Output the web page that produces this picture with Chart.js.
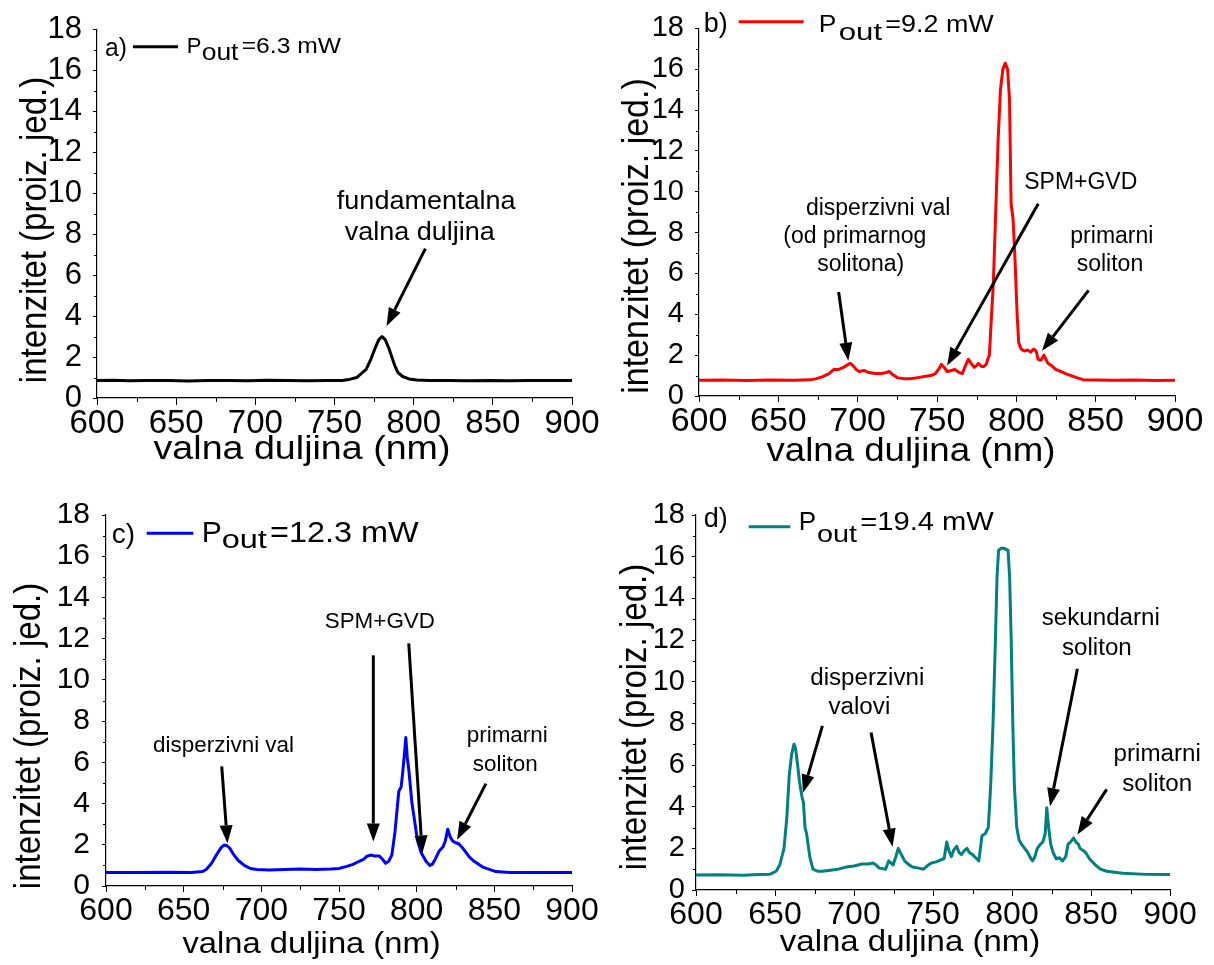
<!DOCTYPE html>
<html>
<head>
<meta charset="utf-8">
<script src="https://cdn.jsdelivr.net/npm/chart.js@4.4.1/dist/chart.umd.min.js"></script>
<style>
body { margin: 0; background: #fff; width: 1214px; height: 965px; position: relative; overflow: hidden; }
canvas { position: absolute; }
</style>
</head>
<body>
<canvas id="ca" width="607" height="470" style="left:0;top:0"></canvas>
<canvas id="cb" width="607" height="470" style="left:607px;top:0"></canvas>
<canvas id="cc" width="607" height="495" style="left:0;top:470px"></canvas>
<canvas id="cd" width="607" height="495" style="left:607px;top:470px"></canvas>
<script>
const FONT = '"Liberation Sans", Arial, sans-serif';

// axes
const xTicks = [600, 650, 700, 750, 800, 850, 900];
const yTicks = [0, 2, 4, 6, 8, 10, 12, 14, 16, 18];
const xMinor = [625, 675, 725, 775, 825, 875];
const yMinor = [1, 3, 5, 7, 9, 11, 13, 15, 17];

const tags = ['a)', 'b)', 'c)', 'd)'];
const powers = ['6.3', '9.2', '12.3', '19.4'];
const colors = ['#000000', '#ff0000', '#0000ff', '#008080'];

// a) Pout = 6.3 mW
const wlA = [600, 610, 620, 632, 645, 658, 670, 683, 695, 708, 720, 733, 745, 755, 760, 764, 767, 770, 773, 776,
  778, 780, 782, 784, 786, 788, 790, 793, 797, 802, 810, 822, 835, 848, 860, 873, 886, 900];
const intA = [0.85, 0.87, 0.84, 0.86, 0.85, 0.83, 0.86, 0.85, 0.84, 0.87, 0.85, 0.84, 0.86, 0.86, 0.92, 1.0, 1.2, 1.4, 1.9, 2.5,
  2.85, 3.0, 2.85, 2.5, 2.05, 1.6, 1.25, 1.05, 0.93, 0.88, 0.86, 0.85, 0.84, 0.86, 0.84, 0.86, 0.85, 0.85];

// b) Pout = 9.2 mW
const wlB = [600, 615, 630, 645, 660, 670, 674, 678, 682, 685, 688, 691, 693, 695.3, 697, 699, 701, 704, 707, 711,
  715, 718, 720, 722, 725, 729, 733, 738, 742, 746, 749, 751, 752.7, 754.5, 756.4, 759, 761.2, 764, 766, 768,
  769.8, 771.5, 773.5, 775, 776, 778, 779.6, 781, 782, 783, 784.4, 785.5, 787, 788.5, 790, 791.5, 793, 794.5, 795.7, 796.7,
  797.9, 799, 800.5, 801.5, 803, 805, 807, 809, 811, 812.5, 813.7, 815.5, 817.4, 819.9, 822, 824.8, 828, 831, 834.5, 838,
  842, 850, 862, 875, 888, 900];
const intB = [0.77, 0.78, 0.76, 0.78, 0.77, 0.79, 0.85, 0.95, 1.1, 1.3, 1.3, 1.4, 1.5, 1.6, 1.5, 1.3, 1.2, 1.25, 1.15, 1.1,
  1.1, 1.15, 1.2, 1.05, 0.9, 0.85, 0.84, 0.9, 0.95, 1.0, 1.1, 1.3, 1.55, 1.4, 1.2, 1.25, 1.3, 1.15, 1.1, 1.5,
  1.8, 1.6, 1.4, 1.5, 1.6, 1.45, 1.45, 1.55, 1.8, 2.0, 4.0, 5.5, 9.0, 12.5, 15.0, 16.0, 16.3, 16.0, 14.5, 9.4,
  8.7, 7.0, 4.0, 2.6, 2.3, 2.2, 2.25, 2.15, 2.3, 2.2, 1.8, 1.75, 2.0, 1.6, 1.5, 1.3, 1.2, 1.1, 1.0, 0.9,
  0.8, 0.78, 0.77, 0.78, 0.76, 0.77];

// c) Pout = 12.3 mW
const wlC = [600, 620, 640, 655, 662, 664.5, 668, 671, 674, 676, 678, 679.5, 682, 685, 689, 693, 697, 705, 715, 725,
  735, 745, 750, 755, 759, 763, 766, 768, 771, 773, 776, 778, 780, 782, 784, 786, 788.5, 790, 791, 792,
  793, 794, 795, 797, 799, 800.5, 803, 806, 808.5, 810, 812, 814.5, 817, 818.5, 820, 821.5, 823, 825, 827, 829,
  831, 834, 837, 843, 851, 860, 875, 890, 900];
const intC = [0.66, 0.65, 0.67, 0.66, 0.7, 0.8, 1.1, 1.5, 1.85, 1.99, 1.95, 1.85, 1.55, 1.25, 1.0, 0.85, 0.8, 0.78, 0.8, 0.82,
  0.8, 0.82, 0.85, 0.95, 1.05, 1.2, 1.3, 1.45, 1.5, 1.45, 1.45, 1.3, 1.1, 1.2, 1.5, 2.6, 4.6, 4.8, 5.5, 6.3,
  7.2, 6.2, 5.6, 4.0, 3.0, 2.2, 1.6, 1.2, 1.0, 1.05, 1.3, 1.7, 1.9, 2.2, 2.75, 2.4, 2.2, 2.1, 2.05, 1.9,
  1.7, 1.4, 1.2, 0.9, 0.7, 0.66, 0.66, 0.65, 0.66];

// d) Pout = 19.4 mW
const wlD = [600, 615, 630, 640, 647, 650.7, 653, 655.7, 657.5, 659, 660.5, 662, 663, 664.3, 665.5, 667, 668, 669, 670, 672,
  674, 677, 680, 685, 690, 695, 700, 705, 709, 712, 714, 716, 720, 722, 724.7, 726.5, 728, 730, 732, 735,
  737, 741, 744, 747, 749, 752, 755, 757, 758.7, 760, 761.6, 763, 765, 766.5, 768, 770, 771.5, 773, 775, 777,
  779, 781, 783, 785, 786.5, 788, 789.5, 790.5, 791.5, 793, 795, 797.5, 798.5, 799.5, 800.5, 801.5, 803, 804.5, 806, 808,
  810, 812, 813, 814.5, 816, 818, 819.5, 821, 822, 823.2, 824.5, 826, 828, 830, 832, 834, 835.5, 837, 839, 840.5,
  842, 843, 845, 846.6, 849, 852.8, 856, 860, 870, 885, 900];
const intD = [0.72, 0.73, 0.71, 0.74, 0.76, 0.9, 1.2, 2.0, 3.5, 5.5, 6.5, 7.0, 6.8, 6.0, 5.2, 4.5, 4.2, 3.0, 2.7, 1.6,
  1.0, 0.9, 0.9, 0.95, 1.0, 1.1, 1.15, 1.25, 1.25, 1.3, 1.2, 1.05, 1.0, 1.4, 1.2, 1.6, 2.0, 1.7, 1.4, 1.2,
  1.1, 1.05, 1.0, 1.2, 1.3, 1.35, 1.45, 1.5, 2.3, 1.9, 1.6, 1.9, 2.1, 1.8, 1.7, 1.9, 2.0, 1.8, 1.7, 1.55,
  1.4, 2.6, 2.7, 3.0, 5.0, 8.0, 12.0, 15.0, 16.3, 16.4, 16.4, 16.3, 15.0, 12.0, 8.0, 5.0, 3.0, 2.4, 2.2, 2.0,
  1.8, 1.5, 1.4, 1.6, 2.0, 2.2, 2.3, 2.7, 3.95, 3.0, 2.2, 1.8, 1.5, 1.55, 1.4, 1.6, 2.2, 2.3, 2.5, 2.3,
  2.2, 2.0, 1.9, 1.8, 1.5, 1.2, 1.0, 0.9, 0.8, 0.75, 0.74];

// layout per panel (canvas-local pixels); legend parts: [x, baseline, size, stretch]
const panels = [
  { id: 'ca', n: 0, wl: wlA, val: intA, yW: 97, padT: 24, padR: 35, xH: 72,
    xFont: 33, yFont: 31, xLen: 7, xPad: -1, yLen: 4, yPad: 11,
    xTitle: [302, 450, 33, 1.14], yTitle: [36, 230, 33, 1.12],
    lg: { tag: [105, 56, 26, 0.95], line: [133, 178, 46.7], P: [186.7, 53.3, 22, 1.0], out: [201.7, 60, 23, 1.15], rest: [241.7, 53.3, 22, 1.12] },
    noteSize: 25, noteSx: 1.08,
    notes: [[807.9, 9.56, 'fundamentalna'], [803.8, 8.06, 'valna duljina']],
    arrows: [[807.4, 7.30, 782.9, 3.52]] },
  { id: 'cb', n: 1, wl: wlB, val: intB, yW: 92, padT: 20, padR: 39, xH: 74,
    xFont: 34, yFont: 29, xLen: 6, xPad: -1, yLen: 4, yPad: 11,
    xTitle: [304, 452, 33, 1.11], yTitle: [31, 236, 34, 1.1],
    lg: { tag: [96.7, 32, 27, 1.0], line: [131.7, 196.7, 21.7], P: [211.7, 32, 24, 1.1], out: [231.7, 40, 24, 1.3], rest: [278.3, 32, 23, 1.17] },
    noteSize: 23, noteSx: 1.0,
    notes: [[712.9, 9.15, 'disperzivni val'], [698.2, 7.79, '(od primarnog'], [701.9, 6.43, 'solitona)'],
            [840.6, 10.43, 'SPM+GVD'], [860.2, 7.79, 'primarni'], [859.0, 6.43, 'soliton']],
    arrows: [[688.0, 5.09, 694.1, 1.73], [813.8, 9.41, 756.4, 1.49], [845.5, 5.17, 816.2, 2.21]] },
  { id: 'cc', n: 2, wl: wlC, val: intC, yW: 106, padT: 45, padR: 35, xH: 79,
    xFont: 32, yFont: 30, xLen: 6, xPad: 0, yLen: 4, yPad: 12,
    xTitle: [311.5, 475, 30, 1.09], yTitle: [30, 266, 33, 1.12],
    lg: { tag: [111.7, 73.3, 28, 1.0], line: [146.7, 193.3, 63.3], P: [201.7, 71.7, 30, 1.0], out: [221.7, 78.3, 26, 1.25], rest: [270, 71.7, 30, 1.08] },
    noteSize: 22, noteSx: 1.02,
    notes: [[675.7, 6.78, 'disperzivni val'], [776.3, 12.83, 'SPM+GVD'], [858.3, 7.28, 'primarni'], [857.0, 5.87, 'soliton']],
    arrows: [[674.5, 5.80, 678.2, 2.07], [772.1, 11.19, 772.1, 2.16], [794.9, 11.77, 803.6, 1.58], [844.6, 4.97, 826.0, 2.24]] },
  { id: 'cd', n: 3, wl: wlD, val: intD, yW: 89, padT: 45, padR: 44, xH: 75,
    xFont: 32, yFont: 29, xLen: 6, xPad: 0, yLen: 4, yPad: 7,
    xTitle: [303, 473, 30, 1.1], yTitle: [29, 247, 33, 1.12],
    lg: { tag: [96.7, 56.7, 27, 1.0], line: [141.7, 183.3, 56.7], P: [191.7, 60, 26, 1.0], out: [210, 71.7, 24, 1.2], rest: [253.3, 60, 26, 1.12] },
    noteSize: 23, noteSx: 1.05,
    notes: [[708.4, 10.14, 'disperzivni'], [703.4, 8.77, 'valovi'], [856.2, 13.03, 'sekundarni'], [853.7, 11.58, 'soliton'],
            [891.9, 6.52, 'primarni'], [891.9, 5.07, 'soliton']],
    arrows: [[680.0, 7.88, 667.7, 4.67], [710.8, 7.56, 724.4, 2.08], [841.4, 10.62, 824.1, 4.02], [859.9, 4.83, 841.4, 2.66]] }
];

// text drawn with a horizontal stretch, the reference is a little widened
function text(ctx, s, x, y, size, sx, align, base) {
  ctx.save();
  ctx.translate(x, y);
  ctx.scale(sx, 1);
  ctx.font = size + 'px ' + FONT;
  ctx.textAlign = align;
  ctx.textBaseline = base;
  ctx.fillText(s, 0, 0);
  ctx.restore();
}

function drawArrow(ctx, x0, y0, x1, y1) {
  const hl = 18, hw = 6.5;
  const a = Math.atan2(y1 - y0, x1 - x0);
  const bx = x1 - hl * Math.cos(a), by = y1 - hl * Math.sin(a);
  ctx.beginPath();
  ctx.moveTo(x0, y0);
  ctx.lineTo(bx, by);
  ctx.stroke();
  ctx.beginPath();
  ctx.moveTo(x1, y1);
  ctx.lineTo(bx + hw * Math.sin(a), by - hw * Math.cos(a));
  ctx.lineTo(bx - hw * Math.sin(a), by + hw * Math.cos(a));
  ctx.closePath();
  ctx.fill();
}

function decor(p) {
  return {
    id: 'decor' + p.n,
    afterDraw(chart) {
      const ctx = chart.ctx, xs = chart.scales.x, ys = chart.scales.y, ca = chart.chartArea;
      ctx.save();
      // minor ticks
      ctx.strokeStyle = '#000';
      ctx.lineWidth = 1;
      xMinor.forEach(v => {
        const px = Math.round(xs.getPixelForValue(v)) + 0.5;
        ctx.beginPath(); ctx.moveTo(px, ca.bottom); ctx.lineTo(px, ca.bottom + 4); ctx.stroke();
      });
      yMinor.forEach(v => {
        const py = Math.round(ys.getPixelForValue(v)) + 0.5;
        ctx.beginPath(); ctx.moveTo(ca.left, py); ctx.lineTo(ca.left - 3, py); ctx.stroke();
      });

      // axis titles
      ctx.fillStyle = '#000';
      text(ctx, 'valna duljina (nm)', p.xTitle[0], p.xTitle[1], p.xTitle[2], p.xTitle[3], 'center', 'middle');
      ctx.save();
      ctx.translate(p.yTitle[0], p.yTitle[1]);
      ctx.scale(p.yTitle[3], 1);
      ctx.rotate(-Math.PI / 2);
      ctx.font = p.yTitle[2] + 'px ' + FONT;
      ctx.textAlign = 'center';
      ctx.textBaseline = 'middle';
      ctx.fillText('intenzitet (proiz. jed.)', 0, 0);
      ctx.restore();

      // legend
      const L = p.lg;
      text(ctx, tags[p.n], L.tag[0], L.tag[1], L.tag[2], L.tag[3], 'left', 'alphabetic');
      ctx.strokeStyle = colors[p.n];
      ctx.lineWidth = 3;
      ctx.beginPath();
      ctx.moveTo(L.line[0], L.line[2]);
      ctx.lineTo(L.line[1], L.line[2]);
      ctx.stroke();
      text(ctx, 'P', L.P[0], L.P[1], L.P[2], L.P[3], 'left', 'alphabetic');
      text(ctx, 'out', L.out[0], L.out[1], L.out[2], L.out[3], 'left', 'alphabetic');
      text(ctx, '=' + powers[p.n] + ' mW', L.rest[0], L.rest[1], L.rest[2], L.rest[3], 'left', 'alphabetic');

      // annotations
      p.notes.forEach(t => text(ctx, t[2], xs.getPixelForValue(t[0]), ys.getPixelForValue(t[1]),
        p.noteSize, p.noteSx, 'center', 'middle'));
      ctx.strokeStyle = '#000';
      ctx.lineWidth = 3;
      p.arrows.forEach(a => drawArrow(ctx,
        xs.getPixelForValue(a[0]), ys.getPixelForValue(a[1]),
        xs.getPixelForValue(a[2]), ys.getPixelForValue(a[3])));
      ctx.restore();
    }
  };
}

panels.forEach(p => {
  new Chart(document.getElementById(p.id), {
    type: 'scatter',
    data: {
      datasets: [{
        data: p.wl.map((w, i) => ({ x: w, y: p.val[i] })),
        showLine: true,
        borderColor: colors[p.n],
        borderWidth: 3,
        borderJoinStyle: 'round',
        pointRadius: 0,
        tension: 0
      }]
    },
    options: {
      responsive: false,
      animation: false,
      devicePixelRatio: 1,
      layout: { padding: { left: 0, top: p.padT, right: p.padR, bottom: 0 } },
      plugins: { legend: { display: false }, tooltip: { enabled: false } },
      scales: {
        x: {
          type: 'linear', min: 600, max: 900,
          afterBuildTicks: s => { s.ticks = xTicks.map(v => ({ value: v })); },
          afterFit: s => { s.height = p.xH; },
          grid: { drawOnChartArea: false, tickLength: p.xLen, tickColor: '#000', tickWidth: 1 },
          border: { color: '#000', width: 1.2 },
          ticks: { color: '#000', font: { family: FONT, size: p.xFont }, padding: p.xPad, maxRotation: 0, autoSkip: false }
        },
        y: {
          type: 'linear', min: 0, max: 18,
          afterBuildTicks: s => { s.ticks = yTicks.map(v => ({ value: v })); },
          afterFit: s => { s.width = p.yW; },
          grid: { drawOnChartArea: false, tickLength: p.yLen, tickColor: '#000', tickWidth: 1 },
          border: { color: '#000', width: 1.2 },
          ticks: { color: '#000', font: { family: FONT, size: p.yFont }, padding: p.yPad, autoSkip: false }
        }
      }
    },
    plugins: [decor(p)]
  });
});
</script>
</body>
</html>
